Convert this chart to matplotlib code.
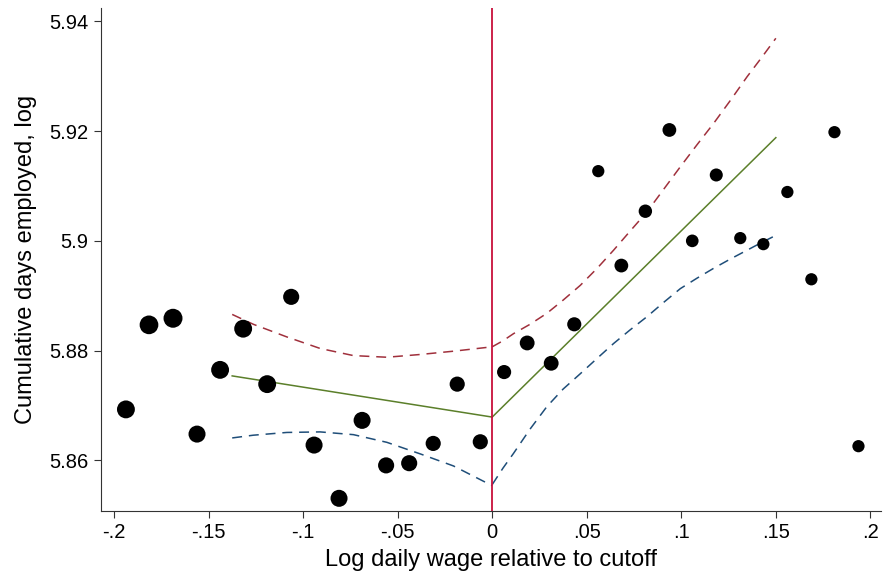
import numpy as np
import matplotlib.pyplot as plt

plt.rcParams['font.family'] = ['Liberation Sans', 'DejaVu Sans']

# binned means: running variable (log wage minus cutoff) and outcome
bin_x = [-0.1937, -0.1815, -0.1688, -0.1561, -0.1439, -0.1317, -0.1190, -0.1063,
         -0.0942, -0.0810, -0.0688, -0.0561, -0.0439, -0.0312, -0.0185, -0.0063,
         0.0063, 0.0185, 0.0312, 0.0434, 0.0561, 0.0683, 0.0810, 0.0937,
         0.1058, 0.1185, 0.1312, 0.1434, 0.1561, 0.1688, 0.1810, 0.1937]
bin_y = [5.8693, 5.8847, 5.8859, 5.8648, 5.8765, 5.8840, 5.8739, 5.8898,
         5.8628, 5.8531, 5.8673, 5.8591, 5.8595, 5.8631, 5.8739, 5.8634,
         5.8761, 5.8814, 5.8777, 5.8848, 5.9127, 5.8955, 5.9054, 5.9202,
         5.9000, 5.9120, 5.9005, 5.8994, 5.9089, 5.8930, 5.9198, 5.8626]
# observations per bin (thousands)
bin_n = [3.2, 3.5, 3.6, 2.9, 3.2, 3.2, 3.2, 2.6,
         2.9, 2.9, 2.9, 2.6, 2.6, 2.3, 2.3, 2.3,
         2.0, 2.2, 2.2, 2.0, 1.5, 1.9, 1.8, 1.9,
         1.6, 1.7, 1.5, 1.5, 1.5, 1.5, 1.5, 1.5]

# local linear fit, left and right of the cutoff
fit_left_x = [-0.1375, 0.0]
fit_left_y = [5.8754, 5.8679]
fit_right_x = [0.0, 0.15]
fit_right_y = [5.8679, 5.9188]

# 95% confidence bands
ci_left_x = [-0.1375, -0.1263, -0.1086, -0.0910, -0.0734, -0.0557, -0.0381, -0.0205, 0.0]
ci_left_hi = [5.8866, 5.8848, 5.8825, 5.8804, 5.8791, 5.8788, 5.8793, 5.8799, 5.8807]
ci_left_lo = [5.8641, 5.8646, 5.8651, 5.8652, 5.8647, 5.8633, 5.8612, 5.8590, 5.8554]
ci_right_x = [0.0, 0.0057, 0.0113, 0.0200, 0.0289, 0.0375, 0.0466, 0.0555, 0.0642,
              0.0730, 0.0819, 0.0907, 0.0995, 0.1083, 0.1171, 0.1260, 0.1348, 0.1425, 0.15]
ci_right_hi = [5.8807, 5.8818, 5.8831, 5.8848, 5.8868, 5.8892, 5.8919, 5.8950, 5.8983,
               5.9018, 5.9053, 5.9094, 5.9135, 5.9175, 5.9214, 5.9256, 5.9299, 5.9334, 5.9369]
ci_right_lo = [5.8556, 5.8586, 5.8613, 5.8657, 5.8698, 5.8730, 5.8758, 5.8786, 5.8813,
               5.8838, 5.8862, 5.8888, 5.8913, 5.8932, 5.8950, 5.8967, 5.8983, 5.8997, 5.9010]

xticks = [-0.2, -0.15, -0.1, -0.05, 0, 0.05, 0.1, 0.15, 0.2]
xtick_labels = ['-.2', '-.15', '-.1', '-.05', '0', '.05', '.1', '.15', '.2']
yticks = [5.86, 5.88, 5.90, 5.92, 5.94]
ytick_labels = ['5.86', '5.88', '5.9', '5.92', '5.94']

fig = plt.figure(figsize=(8.84, 5.78), dpi=100)
ax = fig.add_axes([0.114, 0.116, 0.883, 0.870])

c_hi = '#a0303c'
c_lo = '#1f4e79'
c_fit = '#5b7f2a'

ax.scatter(bin_x, bin_y, s=np.array(bin_n) * 51.8, color='black', zorder=3, linewidths=0)

for cx, hi, lo in [(ci_left_x, ci_left_hi, ci_left_lo), (ci_right_x, ci_right_hi, ci_right_lo)]:
    ax.plot(cx, hi, color=c_hi, lw=1.1, dashes=(6.5, 4.5))
    ax.plot(cx, lo, color=c_lo, lw=1.1, dashes=(6.5, 4.5))

ax.plot(fit_left_x, fit_left_y, color=c_fit, lw=1.1)
ax.plot(fit_right_x, fit_right_y, color=c_fit, lw=1.1)

ax.axvline(0, color='#c8103c', lw=1.3, zorder=2)

ax.set_xlim(-0.207, 0.2058)
ax.set_ylim(5.8508, 5.9424)
ax.set_xticks(xticks)
ax.set_xticklabels(xtick_labels)
ax.set_yticks(yticks)
ax.set_yticklabels(ytick_labels)
ax.tick_params(labelsize=14.5, length=5, width=0.8, color='#333333', pad=4)

for side in ['top', 'right']:
    ax.spines[side].set_visible(False)
for side in ['left', 'bottom']:
    ax.spines[side].set_linewidth(0.8)
    ax.spines[side].set_color('#333333')

ax.set_xlabel('Log daily wage relative to cutoff', fontsize=17, labelpad=5)
ax.set_ylabel('Cumulative days employed, log', fontsize=17, labelpad=9)

fig.savefig('out.png', dpi=100)
